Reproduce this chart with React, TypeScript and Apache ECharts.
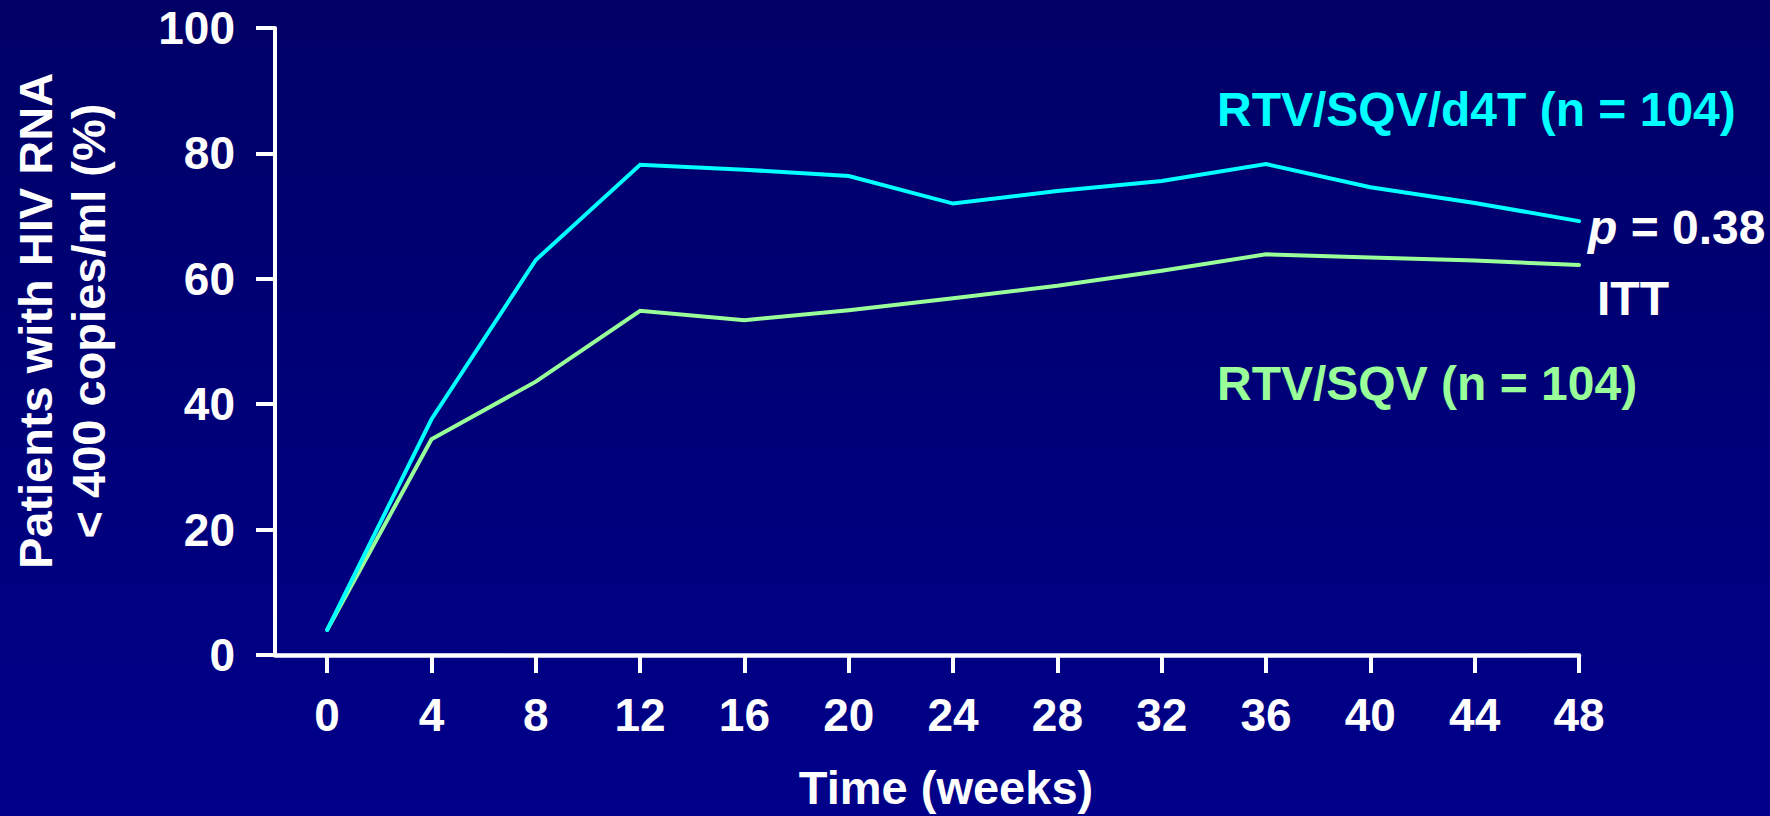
import React, { useEffect, useRef } from "react";
import * as echarts from "echarts";

// Weeks on study and the share of patients below 400 copies/ml at each visit
const weeks = [0, 4, 8, 12, 16, 20, 24, 28, 32, 36, 40, 44, 48];
const rtvSqvD4t = [4, 37.6, 63.0, 78.2, 77.4, 76.4, 72.0, 74.0, 75.6, 78.3, 74.6, 72.1, 69.2];
const rtvSqv = [4, 34.4, 43.6, 54.9, 53.4, 55.0, 56.9, 58.9, 61.3, 63.9, 63.4, 62.9, 62.2];
const weekTicks = [0, 4, 8, 12, 16, 20, 24, 28, 32, 36, 40, 44, 48];

const seriesNames = ["RTV/SQV/d4T (n = 104)", "RTV/SQV (n = 104)"];
const yTitle = ["Patients with HIV RNA", "< 400 copies/ml (%)"];
const xTitle = "Time (weeks)";

const FONT = '"Liberation Sans", Arial, Helvetica, sans-serif';
const CYAN = "#00FFFF";
const GREEN = "#99FF99";

export default function App() {
  const ref = useRef<HTMLDivElement>(null);

  useEffect(() => {
    if (!ref.current) return;
    const chart = echarts.init(ref.current, null, { renderer: "svg" });

    const toPairs = (vals: number[]) => weeks.map((w, i) => [w, vals[i]]);

    chart.setOption({
      animation: false,
      backgroundColor: {
        type: "linear",
        x: 0,
        y: 0,
        x2: 0,
        y2: 1,
        colorStops: [
          { offset: 0, color: "#000066" },
          { offset: 1, color: "#00008A" },
        ],
      },
      grid: { left: 275, right: 191, top: 28, bottom: 161, containLabel: false },
      xAxis: {
        type: "value",
        min: -2,
        max: 48,
        splitLine: { show: false },
        axisLine: { onZero: false, lineStyle: { color: "#FFFFFF", width: 4.5 } },
        axisTick: {
          customValues: weekTicks,
          length: 18,
          lineStyle: { color: "#FFFFFF", width: 4 },
        },
        axisLabel: {
          customValues: weekTicks,
          margin: 37,
          color: "#FFFFFF",
          fontFamily: FONT,
          fontWeight: "bold",
          fontSize: 46,
        },
      },
      yAxis: {
        type: "value",
        min: 0,
        max: 100,
        interval: 20,
        splitLine: { show: false },
        axisLine: { show: true, onZero: false, lineStyle: { color: "#FFFFFF", width: 4 } },
        axisTick: { show: true, length: 19, lineStyle: { color: "#FFFFFF", width: 4 } },
        axisLabel: {
          margin: 40,
          color: "#FFFFFF",
          fontFamily: FONT,
          fontWeight: "bold",
          fontSize: 46,
        },
      },
      series: [
        {
          name: seriesNames[1],
          type: "line",
          data: toPairs(rtvSqv),
          showSymbol: false,
          lineStyle: { color: GREEN, width: 4, cap: "round", join: "miter" },
          itemStyle: { color: GREEN },
        },
        {
          name: seriesNames[0],
          type: "line",
          data: toPairs(rtvSqvD4t),
          showSymbol: false,
          lineStyle: { color: CYAN, width: 4, cap: "round", join: "miter" },
          itemStyle: { color: CYAN },
        },
      ],
      graphic: [
        {
          type: "text",
          x: 62,
          y: 321,
          rotation: Math.PI / 2,
          style: {
            text: yTitle.join("\n"),
            fill: "#FFFFFF",
            font: `bold 47px ${FONT}`,
            lineHeight: 53,
            align: "center",
            verticalAlign: "middle",
          },
        },
        {
          type: "text",
          x: 946,
          y: 787,
          style: {
            text: xTitle,
            fill: "#FFFFFF",
            font: `bold 47px ${FONT}`,
            align: "center",
            verticalAlign: "middle",
          },
        },
        {
          type: "text",
          x: 1217,
          y: 109,
          style: {
            text: seriesNames[0],
            fill: CYAN,
            font: `bold 48px ${FONT}`,
            align: "left",
            verticalAlign: "middle",
          },
        },
        {
          type: "text",
          x: 1217,
          y: 383,
          style: {
            text: seriesNames[1],
            fill: GREEN,
            font: `bold 48px ${FONT}`,
            align: "left",
            verticalAlign: "middle",
          },
        },
        {
          type: "text",
          x: 1588,
          y: 227,
          style: {
            text: "{i|p} = 0.38",
            fill: "#FFFFFF",
            font: `bold 48px ${FONT}`,
            align: "left",
            verticalAlign: "middle",
            rich: {
              i: {
                fill: "#FFFFFF",
                fontFamily: FONT,
                fontWeight: "bold",
                fontStyle: "italic",
                fontSize: 48,
              },
            },
          },
        },
        {
          type: "text",
          x: 1597,
          y: 298,
          style: {
            text: "ITT",
            fill: "#FFFFFF",
            font: `bold 48px ${FONT}`,
            align: "left",
            verticalAlign: "middle",
          },
        },
      ],
    });

    return () => chart.dispose();
  }, []);

  return (
    <div
      ref={ref}
      style={{ position: "fixed", left: 0, top: 0, width: 1770, height: 816 }}
    />
  );
}
